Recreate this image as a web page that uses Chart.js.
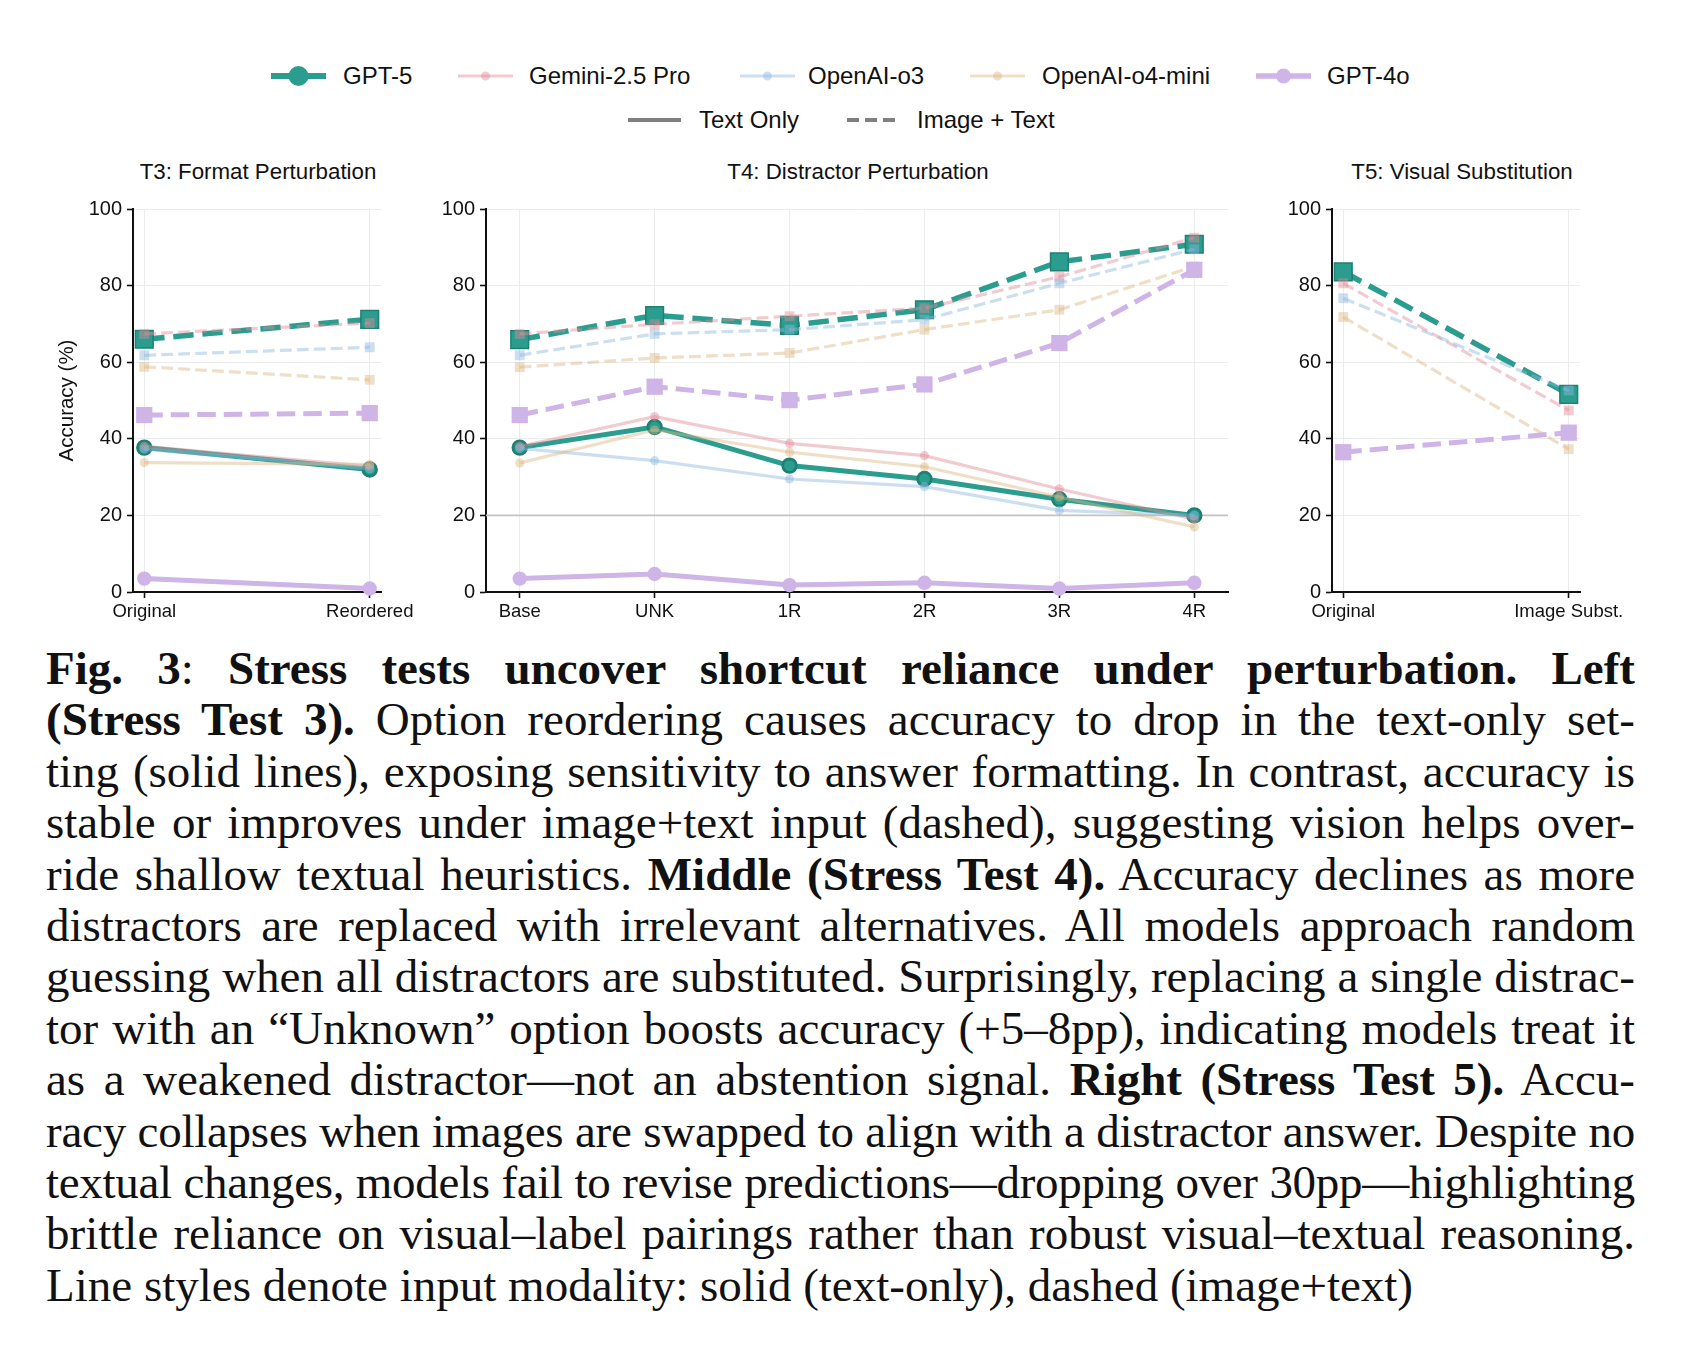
<!DOCTYPE html>
<html>
<head>
<meta charset="utf-8">
<script src="https://cdn.jsdelivr.net/npm/chart.js@4.4.1/dist/chart.umd.min.js"></script>
<style>
  html, body { margin:0; padding:0; background:#fff; }
  body { width:1688px; height:1352px; position:relative; overflow:hidden; font-family:"Liberation Sans", Arial, sans-serif; color:#111; }
  .abs { position:absolute; }
  .ptitle { position:absolute; font-size:22.3px; white-space:nowrap; transform:translate(-50%,-50%); }
  .leg { position:absolute; display:flex; align-items:center; font-size:24px; white-space:nowrap; }
  .cap { position:absolute; left:46px; width:1589px; font-family:"Liberation Serif", "Times New Roman", serif; font-size:47px; line-height:51.4px; color:#111; }
  .cap .ln { text-align:justify; text-align-last:justify; height:51.4px; white-space:nowrap; }
  .cap .ln.last { text-align-last:left; }
  .cap b { font-weight:bold; }
</style>
</head>
<body>

<div class="ptitle" style="left:258px; top:172px;">T3: Format Perturbation</div>
<div class="ptitle" style="left:858px; top:172px;">T4: Distractor Perturbation</div>
<div class="ptitle" style="left:1462px; top:172px;">T5: Visual Substitution</div>

<div id="legend"></div>

<div class="abs" style="left:43px; top:195px; width:383px; height:437px;"><canvas id="c3"></canvas></div>
<div class="abs" style="left:396px; top:195px; width:857px; height:437px;"><canvas id="c4"></canvas></div>
<div class="abs" style="left:1242px; top:195px; width:398px; height:437px;"><canvas id="c5"></canvas></div>

<div class="cap" id="caption" style="top:643px;">
  <div class="ln"><b>Fig. 3</b>: <b>Stress tests uncover shortcut reliance under perturbation. Left</b></div>
  <div class="ln"><b>(Stress Test 3).</b> Option reordering causes accuracy to drop in the text-only set-</div>
  <div class="ln">ting (solid lines), exposing sensitivity to answer formatting. In contrast, accuracy is</div>
  <div class="ln">stable or improves under image+text input (dashed), suggesting vision helps over-</div>
  <div class="ln">ride shallow textual heuristics. <b>Middle (Stress Test 4).</b> Accuracy declines as more</div>
  <div class="ln">distractors are replaced with irrelevant alternatives. All models approach random</div>
  <div class="ln">guessing when all distractors are substituted. Surprisingly, replacing a single distrac-</div>
  <div class="ln">tor with an “Unknown” option boosts accuracy (+5–8pp), indicating models treat it</div>
  <div class="ln">as a weakened distractor—not an abstention signal. <b>Right (Stress Test 5).</b> Accu-</div>
  <div class="ln">racy collapses when images are swapped to align with a distractor answer. Despite no</div>
  <div class="ln">textual changes, models fail to revise predictions—dropping over 30pp—highlighting</div>
  <div class="ln">brittle reliance on visual–label pairings rather than robust visual–textual reasoning.</div>
  <div class="ln last">Line styles denote input modality: solid (text-only), dashed (image+text)</div>
</div>

<script>
// ---------------- DATA ----------------
const MODELS = ['GPT-5', 'Gemini-2.5 Pro', 'OpenAI-o3', 'OpenAI-o4-mini', 'GPT-4o'];
const MODALITIES = ['Text Only', 'Image + Text'];
const T3_LABELS = ['Original', 'Reordered'];
const T4_LABELS = ['Base', 'UNK', '1R', '2R', '3R', '4R'];
const T5_LABELS = ['Original', 'Image Subst.'];
const Y_TICKS = [0, 20, 40, 60, 80, 100];
const RANDOM_GUESS = 20;

// T3: Format Perturbation — text only (solid)
const T3_TEXT_GPT5    = [37.7, 32.0];
const T3_TEXT_GEMINI  = [38.0, 32.8];
const T3_TEXT_O3      = [37.3, 32.2];
const T3_TEXT_O4MINI  = [33.8, 33.3];
const T3_TEXT_GPT4O   = [3.5, 0.9];
// T3 — image + text (dashed)
const T3_IMG_GPT5     = [66.0, 71.2];
const T3_IMG_GEMINI   = [67.4, 70.2];
const T3_IMG_O3       = [61.8, 63.9];
const T3_IMG_O4MINI   = [58.8, 55.4];
const T3_IMG_GPT4O    = [46.2, 46.7];

// T4: Distractor Perturbation — text only (solid)
const T4_TEXT_GPT5    = [37.7, 43.1, 33.0, 29.5, 24.2, 20.0];
const T4_TEXT_GEMINI  = [38.0, 45.8, 38.8, 35.6, 26.9, 19.0];
const T4_TEXT_O3      = [37.5, 34.3, 29.5, 27.5, 21.3, 20.0];
const T4_TEXT_O4MINI  = [33.7, 42.3, 36.5, 32.7, 24.8, 17.0];
const T4_TEXT_GPT4O   = [3.5, 4.7, 1.8, 2.4, 0.9, 2.4];
// T4 — image + text (dashed)
const T4_IMG_GPT5     = [65.9, 72.2, 69.6, 73.7, 86.2, 90.8];
const T4_IMG_GEMINI   = [67.4, 69.9, 72.0, 74.1, 82.3, 92.5];
const T4_IMG_O3       = [61.8, 67.4, 68.5, 71.1, 80.6, 89.5];
const T4_IMG_O4MINI   = [58.7, 61.1, 62.4, 68.5, 73.7, 85.0];
const T4_IMG_GPT4O    = [46.2, 53.6, 50.1, 54.2, 65.0, 84.1];

// T5: Visual Substitution — image + text (dashed)
const T5_IMG_GPT5     = [83.6, 51.6];
const T5_IMG_GEMINI   = [80.6, 47.4];
const T5_IMG_O3       = [76.7, 52.6];
const T5_IMG_O4MINI   = [71.8, 37.3];
const T5_IMG_GPT4O    = [36.5, 41.6];

// ---------------- STYLE ----------------
const FONT = '"Liberation Sans", Arial, sans-serif';
const STYLE = {
  'GPT-5':          { color:'#2a9d8f', edge:'#1f8073', lw:5,   lwDash:5.5, r:6.8, rSq:12.5, bw:2.8, bwSq:1.5 },
  'Gemini-2.5 Pro': { color:'rgba(226,140,150,0.45)', edge:'rgba(226,140,150,0.45)', lw:3.2, lwDash:3.2, r:4.6, rSq:7, bw:0, bwSq:0 },
  'OpenAI-o3':      { color:'rgba(140,185,225,0.45)', edge:'rgba(140,185,225,0.45)', lw:3.2, lwDash:3.2, r:4.6, rSq:7, bw:0, bwSq:0 },
  'OpenAI-o4-mini': { color:'rgba(220,185,130,0.45)', edge:'rgba(220,185,130,0.45)', lw:3.2, lwDash:3.2, r:4.6, rSq:7, bw:0, bwSq:0 },
  'GPT-4o':         { color:'#cfb4e7', edge:'#cfb4e7', lw:5,   lwDash:5,   r:7.2, rSq:11.5, bw:0, bwSq:0 }
};

function ds(model, values, dashed) {
  const s = STYLE[model];
  const lw = dashed ? s.lwDash : s.lw;
  return {
    label: model + (dashed ? ' (Image + Text)' : ' (Text Only)'),
    data: values.map((v, i) => ({ x: i, y: v })),
    borderColor: s.color,
    backgroundColor: s.color,
    borderWidth: lw,
    borderDash: dashed ? [3.7 * lw, 1.6 * lw] : [],
    borderCapStyle: 'butt',
    borderJoinStyle: 'round',
    pointStyle: dashed ? 'rect' : 'circle',
    pointRadius: dashed ? s.rSq : s.r,
    pointHoverRadius: dashed ? s.rSq : s.r,
    pointBackgroundColor: s.color,
    pointBorderColor: s.edge,
    pointBorderWidth: dashed ? s.bwSq : s.bw,
    tension: 0,
    clip: false
  };
}

const refLinePlugin = {
  id: 'refLine',
  beforeDatasetsDraw(chart, args, opts) {
    if (opts.value == null) return;
    const { ctx, chartArea } = chart;
    const y = chart.scales.y.getPixelForValue(opts.value);
    ctx.save();
    ctx.strokeStyle = '#c2c2c2';
    ctx.lineWidth = 1.8;
    ctx.beginPath();
    ctx.moveTo(chartArea.left, y);
    ctx.lineTo(chartArea.right, y);
    ctx.stroke();
    ctx.restore();
  }
};

function makeChart(id, labels, datasets, opts) {
  const n = labels.length;
  const pad = 0.05 * (n - 1);
  return new Chart(document.getElementById(id), {
    type: 'line',
    data: { datasets },
    plugins: [refLinePlugin],
    options: {
      responsive: true,
      maintainAspectRatio: false,
      animation: false,
      events: [],
      layout: { padding: { top: 12, right: opts.padRight, bottom: 0, left: 0 } },
      plugins: {
        legend: { display: false },
        tooltip: { enabled: false },
        refLine: { value: opts.ref }
      },
      scales: {
        x: {
          type: 'linear',
          min: -pad, max: (n - 1) + pad,
          afterBuildTicks: s => { s.ticks = labels.map((_, i) => ({ value: i })); },
          afterFit: s => { s.height = 40; s.paddingLeft = 0; s.paddingRight = 0; },
          ticks: { callback: v => labels[Math.round(v)], font: { family: FONT, size: 18.5 }, color: '#111', padding: 3, maxRotation: 0, autoSkip: false },
          grid: { color: '#ececec', lineWidth: 1, tickColor: '#111', tickLength: 6, tickWidth: 1.6 },
          border: { color: '#111', width: 2 }
        },
        y: {
          type: 'linear',
          min: 0, max: 100,
          afterBuildTicks: s => { s.ticks = Y_TICKS.map(v => ({ value: v })); },
          afterFit: s => { s.width = 90; s.paddingTop = 0; s.paddingBottom = 0; },
          ticks: { font: { family: FONT, size: 20 }, color: '#111', padding: 5 },
          grid: { color: '#ececec', lineWidth: 1, tickColor: '#111', tickLength: 6, tickWidth: 1.6 },
          border: { color: '#111', width: 2 },
          title: { display: !!opts.ytitle, text: opts.ytitle || '', font: { family: FONT, size: 20.5 }, color: '#111', padding: { top: 12.5, bottom: 0 } }
        }
      }
    }
  });
}

// draw order: first dataset drawn on top -> GPT-5 last (bottom)
makeChart('c3', T3_LABELS, [
  ds('GPT-4o', T3_IMG_GPT4O, true), ds('OpenAI-o4-mini', T3_IMG_O4MINI, true), ds('OpenAI-o3', T3_IMG_O3, true), ds('Gemini-2.5 Pro', T3_IMG_GEMINI, true), ds('GPT-5', T3_IMG_GPT5, true),
  ds('GPT-4o', T3_TEXT_GPT4O, false), ds('OpenAI-o4-mini', T3_TEXT_O4MINI, false), ds('OpenAI-o3', T3_TEXT_O3, false), ds('Gemini-2.5 Pro', T3_TEXT_GEMINI, false), ds('GPT-5', T3_TEXT_GPT5, false)
], { ytitle: 'Accuracy (%)', padRight: 45 });

makeChart('c4', T4_LABELS, [
  ds('GPT-4o', T4_IMG_GPT4O, true), ds('OpenAI-o4-mini', T4_IMG_O4MINI, true), ds('OpenAI-o3', T4_IMG_O3, true), ds('Gemini-2.5 Pro', T4_IMG_GEMINI, true), ds('GPT-5', T4_IMG_GPT5, true),
  ds('GPT-4o', T4_TEXT_GPT4O, false), ds('OpenAI-o4-mini', T4_TEXT_O4MINI, false), ds('OpenAI-o3', T4_TEXT_O3, false), ds('Gemini-2.5 Pro', T4_TEXT_GEMINI, false), ds('GPT-5', T4_TEXT_GPT5, false)
], { ref: RANDOM_GUESS, padRight: 25 });

makeChart('c5', T5_LABELS, [
  ds('GPT-4o', T5_IMG_GPT4O, true), ds('OpenAI-o4-mini', T5_IMG_O4MINI, true), ds('OpenAI-o3', T5_IMG_O3, true), ds('Gemini-2.5 Pro', T5_IMG_GEMINI, true), ds('GPT-5', T5_IMG_GPT5, true)
], { padRight: 60 });

// ---------------- LEGEND (HTML) ----------------
const LEG_ROW1 = [
  { x: 271, textX: 343 }, { x: 458, textX: 529 }, { x: 740, textX: 808 }, { x: 970, textX: 1042 }, { x: 1256, textX: 1327 }
];
const legend = document.getElementById('legend');
MODELS.forEach((m, i) => {
  const s = STYLE[m];
  const p = LEG_ROW1[i];
  const lw = m === 'GPT-5' ? 6 : (m === 'GPT-4o' ? 5.5 : 3);
  const mr = m === 'GPT-5' ? 10 : (m === 'GPT-4o' ? 7.5 : 4.5);
  const svg = `<svg class="abs" style="left:${p.x}px; top:${76-12}px" width="56" height="24">
    <line x1="0" y1="12" x2="55" y2="12" stroke="${s.color}" stroke-width="${lw}"/>
    <circle cx="27.5" cy="12" r="${mr}" fill="${s.color}"/></svg>`;
  legend.insertAdjacentHTML('beforeend', svg);
  legend.insertAdjacentHTML('beforeend', `<div class="leg" style="left:${p.textX}px; top:${76-14}px; height:28px;">${m}</div>`);
});
legend.insertAdjacentHTML('beforeend', `<svg class="abs" style="left:628px; top:${120-12}px" width="56" height="24"><line x1="0" y1="12" x2="53" y2="12" stroke="#808080" stroke-width="4"/></svg>`);
legend.insertAdjacentHTML('beforeend', `<div class="leg" style="left:699px; top:${120-14}px; height:28px;">${MODALITIES[0]}</div>`);
legend.insertAdjacentHTML('beforeend', `<svg class="abs" style="left:847px; top:${120-12}px" width="56" height="24"><line x1="0" y1="12" x2="50" y2="12" stroke="#808080" stroke-width="4" stroke-dasharray="12 6"/></svg>`);
legend.insertAdjacentHTML('beforeend', `<div class="leg" style="left:917px; top:${120-14}px; height:28px;">${MODALITIES[1]}</div>`);

// ---------------- CAPTION FIT (per line: tighten letter-spacing if a line is too long) ----------------
function fitCaption() {
  const cap = document.getElementById('caption');
  const W = cap.getBoundingClientRect().width - 2;
  cap.querySelectorAll('.ln').forEach(l => {
    l.style.letterSpacing = '0px';
    const sp = document.createElement('span');
    sp.style.whiteSpace = 'nowrap';
    sp.style.position = 'absolute';
    sp.style.visibility = 'hidden';
    sp.style.left = '0'; sp.style.top = '0';
    sp.innerHTML = l.innerHTML;
    cap.appendChild(sp);
    const nat = sp.getBoundingClientRect().width;
    const chars = sp.textContent.length;
    sp.remove();
    if (nat > W) {
      l.style.letterSpacing = (-(nat - W) / chars) + 'px';
    }
  });
}
fitCaption();
if (document.fonts && document.fonts.ready) document.fonts.ready.then(fitCaption);
window.addEventListener('load', fitCaption);
</script>
</body>
</html>
